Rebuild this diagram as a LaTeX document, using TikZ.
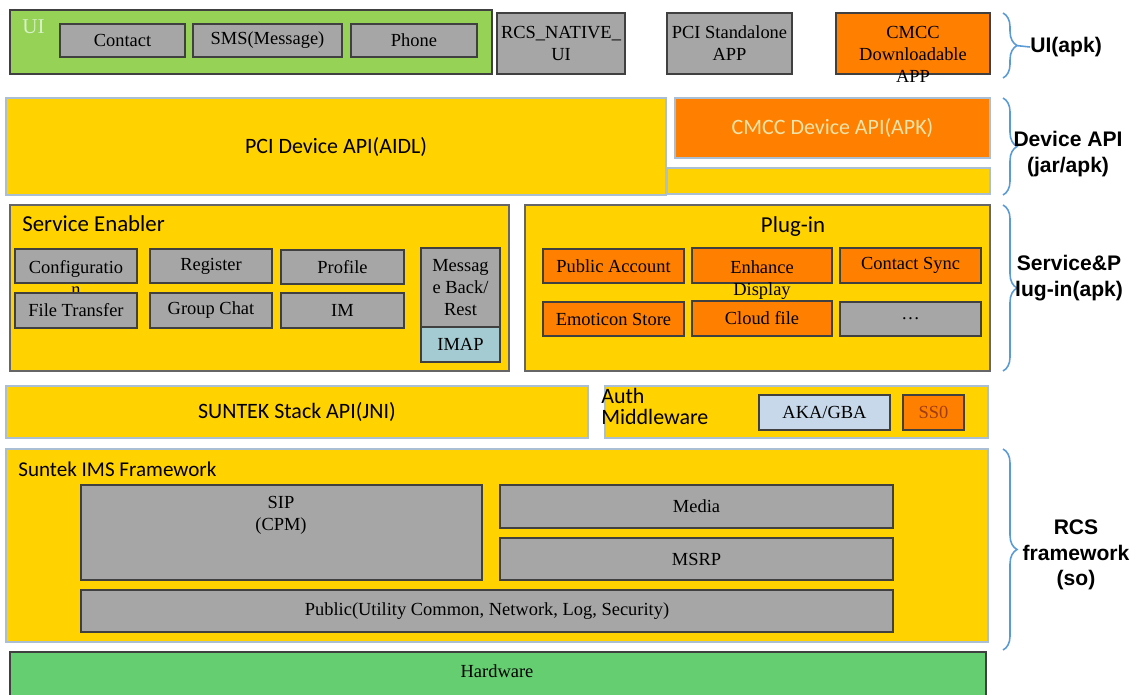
\documentclass[tikz,border=0pt]{standalone}
\usepackage{fontspec}
\setmainfont{Liberation Serif}
\newfontfamily\calfont{Carlito}
\newfontfamily\arialfont{Liberation Sans}
\usepackage{tikz}
\usetikzlibrary{fit,positioning,shadows,decorations.pathreplacing}
\definecolor{rcsYellow}{RGB}{255,210,0}
\definecolor{rcsOrange}{RGB}{255,128,0}
\definecolor{rcsGray}{RGB}{166,166,166}
\definecolor{rcsEdge}{RGB}{64,64,64}
\definecolor{rcsLine}{RGB}{170,190,212}
\definecolor{uiGreen}{RGB}{150,210,85}
\definecolor{uiTag}{RGB}{214,240,200}
\definecolor{hwGreen}{RGB}{100,206,112}
\definecolor{imapBlue}{RGB}{165,203,210}
\definecolor{akaBlue}{RGB}{198,216,234}
\definecolor{braceBlue}{RGB}{91,155,213}
\definecolor{apiText}{RGB}{238,228,170}
\definecolor{ssoText}{RGB}{160,60,20}

\begin{document}
\begin{tikzpicture}[x=0.02cm, y=-0.02cm,
  rcsbox/.style={draw=rcsEdge, line width=0.6pt, inner sep=0pt},
  graybox/.style={rcsbox, fill=rcsGray,
    drop shadow={shadow xshift=0.7pt, shadow yshift=-0.7pt, opacity=0.5}},
  orangebox/.style={graybox, fill=rcsOrange},
  layerbox/.style={draw=rcsLine, line width=0.6pt, fill=rcsYellow, inner sep=0pt},
  groupbox/.style={layerbox, draw=rcsEdge!80},
  boxtext/.style={font=\fontsize{10.5}{12.5}\selectfont, align=center, inner sep=0pt},
  layertext/.style={font=\calfont\fontsize{12.5}{15}\selectfont, align=center, inner sep=0pt},
  titletext/.style={font=\calfont\fontsize{13}{15}\selectfont, inner sep=0pt},
  boxlabel/.style={label={[boxtext]center:#1}},
  layerlabel/.style={label={[layertext]center:#1}},
  sidelabel/.style={font=\arialfont\bfseries\fontsize{12}{14.5}\selectfont, align=center, inner sep=0pt},
  sidebrace/.style={draw=braceBlue, line width=0.9pt, decorate, decoration={brace, amplitude=8pt}}
]
\useasboundingbox (0,0) rectangle (1136,694);

% UI (apk)
\node[rcsbox, fill=uiGreen, fit={(10,10) (492,74)},
  drop shadow={shadow xshift=0.8pt, shadow yshift=-0.8pt, opacity=0.5}] (ui) {};
\node[font=\fontsize{12}{14}\selectfont, text=uiTag, anchor=west, inner sep=0pt] (uitag) at (22,27) {UI};
\foreach \name/\xa/\xb/\txt in {contact/60/185/Contact, sms/193/342/SMS(Message), phone/351/477/Phone}
{
    \node[graybox, fit={(\xa,24) (\xb,57)}, boxlabel=\txt] (\name) {};
}
\node[graybox, fit={(497,13) (625,74)}, boxlabel={RCS\_NATIVE\_\\UI}] (nativeui) {};
\node[graybox, fit={(667,13) (792,74)}, boxlabel={PCI Standalone\\APP}] (standalone) {};
\node[orangebox, fit={(836,13) (990,74)}] (cmccapp) {};
\node[boxtext] (cmccapptext) at (913,54) {CMCC\\Downloadable\\APP};

% Device API
\node[layerbox, fit={(6,98) (666,195)}, layerlabel={PCI Device API(AIDL)}] (pciapi) {};
\node[layerbox, fill=rcsOrange, fit={(675,98) (990,158)},
  label={[layertext, text=apiText]center:CMCC Device API(APK)}] (cmccapi) {};
\node[layerbox, fit={(667,168) (990,194)}] (pciext) {};

% Service Enabler
\node[groupbox, fit={(10,205) (509,371)}] (enabler) {};
\node[titletext, anchor=west] (enablertitle) at (22,224) {Service Enabler};
\node[graybox, fit={(15,249) (137,283)}] (config) {};
\node[boxtext] (configtext) at (76,278) {Configuratio\\n};
\foreach \name/\xa/\ya/\xb/\yb/\txt in {register/150/249/272/283/Register, profile/281/250/404/284/Profile,
    filetrans/15/293/137/328/File Transfer, groupchat/150/293/272/328/Group Chat, im/281/293/404/328/IM}
{
    \node[graybox, fit={(\xa,\ya) (\xb,\yb)}, boxlabel=\txt] (\name) {};
}
\node[graybox, fit={(421,248) (500,327)}, boxlabel={Messag\\e Back/\\Rest}] (backup) {};
\node[graybox, fill=imapBlue, fit={(421,327) (500,362)}, boxlabel=IMAP] (imap) {};

% Plug-in
\node[groupbox, fit={(525,205) (990,371)}] (plugin) {};
\node[titletext] (plugintitle) at (793,227) {Plug-in};
\foreach \name/\xa/\ya/\xb/\yb/\txt in {pubacc/543/249/684/283/Public Account, contsync/840/248/981/283/Contact Sync,
    emoticon/543/302/684/336/Emoticon Store, cloudfile/692/301/832/336/Cloud file}
{
    \node[orangebox, fit={(\xa,\ya) (\xb,\yb)}, boxlabel=\txt] (\name) {};
}
\node[orangebox, fit={(692,248) (832,283)}] (enhance) {};
\node[boxtext] (enhancetext) at (762,280) {Enhance\\Display};
\node[graybox, fit={(840,302) (981,336)}, boxlabel=\dots] (more) {};

% Stack API and auth
\node[layerbox, fit={(6,386) (588,438)}, layerlabel={SUNTEK Stack API(JNI)}] (stackapi) {};
\node[layerbox, fit={(605,386) (988,438)}] (auth) {};
\node[font=\calfont\fontsize{12.5}{12}\selectfont, align=left, anchor=west, inner sep=0pt] (authtext) at (601,406) {Auth\\Middleware};
\node[graybox, fill=akaBlue, fit={(759,395) (890,430)}, boxlabel={AKA/GBA}] (akagba) {};
\node[orangebox, fit={(903,395) (964,430)}, label={[boxtext, text=ssoText]center:SS0}] (sso) {};

% IMS framework
\node[layerbox, fit={(6,449) (988,642)}] (ims) {};
\node[titletext, font=\calfont\fontsize{12}{14}\selectfont, anchor=west] (imstitle) at (18,469) {Suntek IMS Framework};
\node[graybox, fit={(81,485) (482,580)}] (sip) {};
\node[boxtext] (siptext) at (281,515) {SIP\\(CPM)};
\node[graybox, fit={(500,485) (893,528)}, boxlabel=Media] (media) {};
\node[graybox, fit={(500,538) (893,580)}, boxlabel=MSRP] (msrp) {};
\node[graybox, fit={(81,590) (893,632)}, boxlabel={Public(Utility Common, Network, Log, Security)}] (public) {};

% Hardware
\node[rcsbox, fill=hwGreen, fit={(10,652) (986,696)}] (hardware) {};
\node[boxtext] (hardwaretext) at (497,671) {Hardware};

% braces on the right
\draw[sidebrace] (1003,13) -- (1003,78);
\draw[sidebrace] (1003,98) -- (1003,195);
\draw[sidebrace] (1003,205) -- (1003,371);
\draw[sidebrace] (1003,449) -- (1003,650);
\coordinate (uitip) at (1016,45.5);
\node[sidelabel, anchor=west] (uiapk) at (1030,47) {UI(apk)};
\draw[braceBlue, line width=0.9pt] (uitip) -- (uiapk.west);
\node[sidelabel] (devapi) at (1068,154) {Device API\\(jar/apk)};
\node[sidelabel] (svcplug) at (1069,278) {Service\&P\\lug-in(apk)};
\node[sidelabel] (rcsfw) at (1076,555) {RCS\\framework\\(so)};
\end{tikzpicture}
\end{document}
